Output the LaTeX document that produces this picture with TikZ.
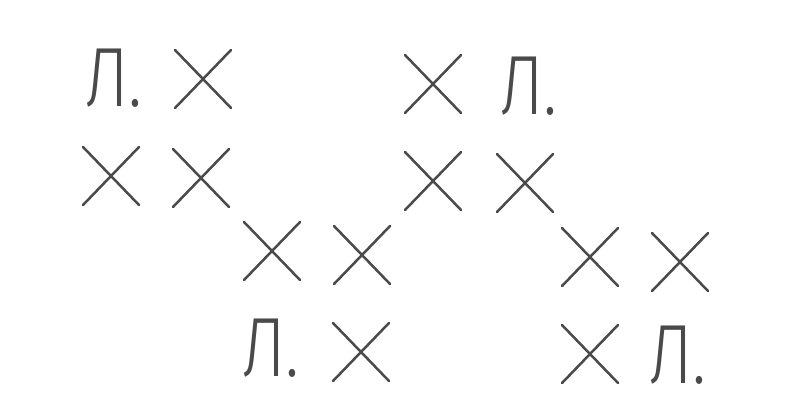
\documentclass[tikz,border=0pt]{standalone}
\usepackage{fontspec}
\newfontfamily\lfont{Fira Sans Light}
\usetikzlibrary{positioning}
\definecolor{ink}{HTML}{4A4A4A}
\tikzset{
  xline/.style={draw=ink, line width=2.5pt, line cap=round},
  cross/.pic={\draw[xline] (-28,-29) -- (28,29) (-28,29) -- (28,-29);},
  lmark/.style={anchor=south west, inner sep=0pt, text=ink,
    font=\lfont\fontsize{84}{84}\selectfont, xscale=0.8, transform shape}
}
\begin{document}
\begin{tikzpicture}[x=1pt, y=-1pt]
\useasboundingbox (0,0) rectangle (794,417);
% game marks
\node[lmark] (l1) at (85,108) {Л.};
\node[lmark] (l2) at (500,116) {Л.};
\node[lmark] (l3) at (242,378) {Л.};
\node[lmark] (l4) at (649,385) {Л.};

% crosses
\foreach \cx/\cy in {203/79, 433/84,
                     111/176, 201/178, 433/181, 525/183,
                     272/251, 362/255, 590/257, 680/262,
                     361/352, 590/354}
  \pic at (\cx,\cy) {cross};
\end{tikzpicture}
\end{document}
